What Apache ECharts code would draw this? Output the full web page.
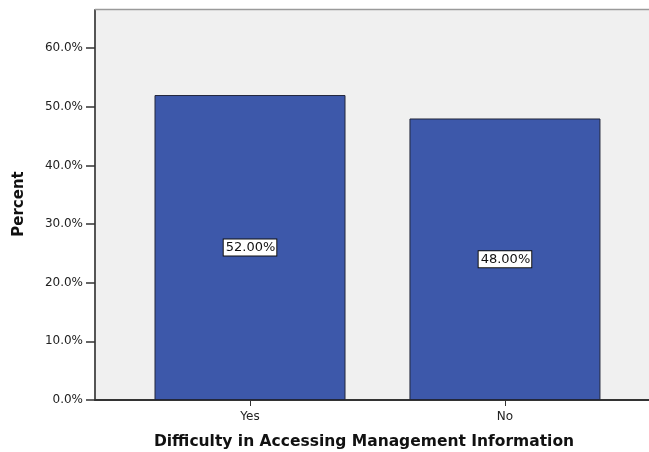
<!DOCTYPE html>
<html>
<head>
<meta charset="utf-8">
<script src="https://cdn.jsdelivr.net/npm/echarts@6/dist/echarts.min.js"></script>
<style>
  html, body { margin: 0; padding: 0; background: #ffffff; }
  #chart { width: 649px; height: 452px; }
</style>
</head>
<body>
<div id="chart"></div>
<script>
// Response categories and their share of respondents (percent)
const categories = ['Yes', 'No'];
const percentValues = [52.0, 48.0];
const yTickValues = [0, 10, 20, 30, 40, 50, 60];

const chart = echarts.init(document.getElementById('chart'), null, { renderer: 'canvas' });

const fontFamily = '"DejaVu Sans", Verdana, sans-serif';

chart.setOption({
  animation: false,
  backgroundColor: '#ffffff',
  grid: {
    left: 95, right: 0, top: 10, bottom: 52,
    show: true,
    backgroundColor: '#f0f0f0',
    borderWidth: 0
  },
  xAxis: {
    type: 'value',
    min: -0.608,
    max: 1.565,
    splitLine: { show: false },
    axisLine: { show: true, onZero: false, lineStyle: { color: '#333333', width: 2 } },
    axisTick: {
      show: true, length: 6, customValues: [0, 1],
      lineStyle: { color: '#333333', width: 1 }
    },
    axisLabel: {
      customValues: [0, 1],
      formatter: v => categories[Math.round(v)] || '',
      color: '#222222', fontSize: 12, fontFamily: fontFamily, margin: 11
    }
  },
  yAxis: {
    type: 'value',
    min: 0,
    max: 66.5,
    splitLine: { show: false },
    axisLine: { show: true, onZero: false, lineStyle: { color: '#555555', width: 2 } },
    axisTick: {
      show: true, length: 9, customValues: yTickValues,
      lineStyle: { color: '#333333', width: 1.5 }
    },
    axisLabel: {
      customValues: yTickValues,
      formatter: v => v.toFixed(1) + '%',
      color: '#222222', fontSize: 12, fontFamily: fontFamily, margin: 12
    }
  },
  graphic: [
    {
      type: 'line',
      shape: { x1: 95, y1: 9.5, x2: 649, y2: 9.5 },
      style: { stroke: '#9a9a9a', lineWidth: 1.5 },
      z: 10
    },
    {
      type: 'text',
      x: 19, y: 204,
      rotation: Math.PI / 2,
      style: {
        text: 'Percent',
        font: 'bold 15px ' + fontFamily,
        fill: '#111111',
        textAlign: 'center',
        textVerticalAlign: 'middle'
      }
    },
    {
      type: 'text',
      x: 364, y: 442,
      style: {
        text: 'Difficulty in Accessing Management Information',
        font: 'bold 15.5px ' + fontFamily,
        fill: '#111111',
        textAlign: 'center',
        textVerticalAlign: 'middle'
      }
    }
  ],
  series: [
    {
      type: 'bar',
      data: percentValues.map((v, i) => [i, v]),
      barWidth: 191,
      itemStyle: { color: '#3d58aa', borderColor: '#22263a', borderWidth: 1 },
      label: {
        show: true,
        position: 'inside',
        formatter: p => p.value[1].toFixed(2) + '%',
        color: '#111111',
        fontSize: 13,
        fontFamily: fontFamily,
        backgroundColor: '#ffffff',
        borderColor: '#111111',
        borderWidth: 1,
        padding: [2, 1, 1, 2]
      }
    }
  ]
});
</script>
</body>
</html>
